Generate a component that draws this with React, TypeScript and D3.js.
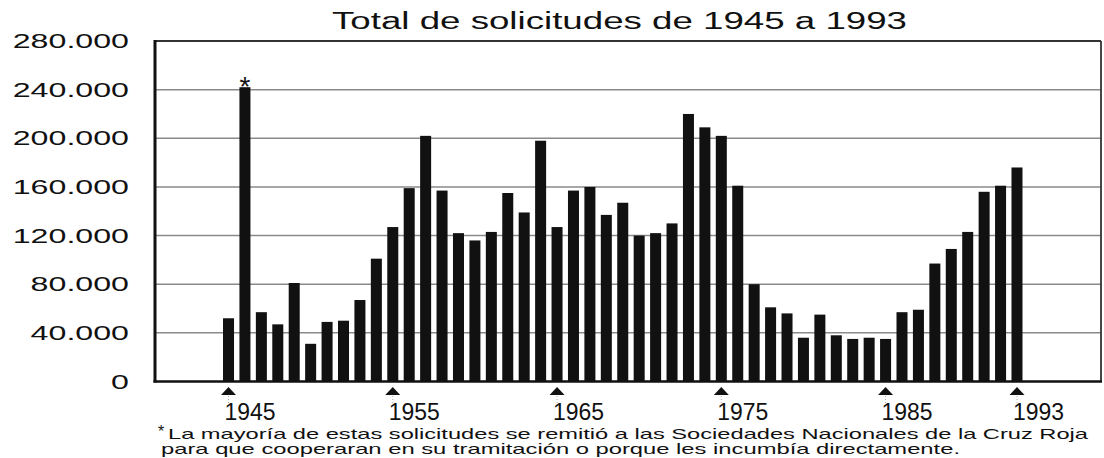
import React from "react";
import * as d3 from "d3";

const years: number[] = [
  1945, 1946, 1947, 1948, 1949, 1950, 1951, 1952, 1953, 1954,
  1955, 1956, 1957, 1958, 1959, 1960, 1961, 1962, 1963, 1964,
  1965, 1966, 1967, 1968, 1969, 1970, 1971, 1972, 1973, 1974,
  1975, 1976, 1977, 1978, 1979, 1980, 1981, 1982, 1983, 1984,
  1985, 1986, 1987, 1988, 1989, 1990, 1991, 1992, 1993,
];

const solicitudes: number[] = [
  52000, 242000, 57000, 47000, 81000, 31000, 49000, 50000, 67000, 101000,
  127000, 159000, 202000, 157000, 122000, 116000, 123000, 155000, 139000, 198000,
  127000, 157000, 160000, 137000, 147000, 120000, 122000, 130000, 220000, 209000,
  202000, 161000, 80000, 61000, 56000, 36000, 55000, 38000, 35000, 36000,
  35000, 57000, 59000, 97000, 109000, 123000, 156000, 161000, 176000,
];

const yTicks: number[] = [0, 40000, 80000, 120000, 160000, 200000, 240000, 280000];
const yTickLabels: string[] = ["0", "40.000", "80.000", "120.000", "160.000", "200.000", "240.000", "280.000"];
const xTickYears: number[] = [1945, 1955, 1965, 1975, 1985, 1993];
const starYear = 1946;

const title = "Total de solicitudes de 1945 a 1993";
const note1 = "La mayoría de estas solicitudes se remitió a las Sociedades Nacionales de la Cruz Roja";
const note2 = "para que cooperaran en su tramitación o porque les incumbía directamente.";

export default function App() {
  const W = 1104;
  const H = 458;
  const left = 155;
  const right = 1101;
  const top = 41;
  const bottom = 381.5;

  const y = d3.scaleLinear().domain([0, 280000]).range([bottom, top]);
  const x = d3
    .scaleBand<number>()
    .domain(years)
    .range([220.3, 1025.2])
    .paddingInner(0.33)
    .paddingOuter(0.165);
  const bw = x.bandwidth();
  const cx = (yr: number) => (x(yr) as number) + bw / 2;

  const sans = "'Liberation Sans', Arial, Helvetica, sans-serif";
  const narrow = "'Liberation Sans Narrow', 'Arial Narrow', 'Liberation Sans', sans-serif";

  return (
    <svg
      width={W}
      height={H}
      viewBox={`0 0 ${W} ${H}`}
      style={{ position: "absolute", left: 0, top: 0, background: "#fff" }}
    >
      <rect x={0} y={0} width={W} height={H} fill="#fff" />
      {/* title */}
      <text
        x={332}
        y={29}
        fontFamily={sans}
        fontSize={23}
        fill="#111"
        textLength={575}
        lengthAdjust="spacingAndGlyphs"
      >
        {title}
      </text>

      {/* gridlines */}
      {yTicks.slice(1, -1).map((t) => (
        <line key={t} x1={left} x2={right} y1={y(t)} y2={y(t)} stroke="#8a8a8a" strokeWidth={1.5} />
      ))}

      {/* y labels */}
      {yTicks.map((t, i) => (
        <text
          key={t}
          transform={`translate(129,${y(t) + 7}) scale(1.65,1)`}
          textAnchor="end"
          fontFamily={sans}
          fontSize={19.5}
          fill="#111"
        >
          {yTickLabels[i]}
        </text>
      ))}

      {/* bars */}
      {years.map((yr, i) => (
        <rect
          key={yr}
          x={x(yr)}
          y={y(solicitudes[i])}
          width={bw}
          height={bottom - y(solicitudes[i])}
          fill="#111"
        />
      ))}

      {/* star */}
      <text
        x={cx(starYear)}
        y={y(solicitudes[years.indexOf(starYear)]) + 9}
        textAnchor="middle"
        fontFamily={sans}
        fontSize={28}
        fill="#111"
      >
        *
      </text>

      {/* frame */}
      <line x1={left} x2={right} y1={top} y2={top} stroke="#333" strokeWidth={1.8} />
      <line x1={right} x2={right} y1={top} y2={bottom} stroke="#333" strokeWidth={1.8} />
      <line x1={left - 1.5} x2={right + 1} y1={bottom} y2={bottom} stroke="#111" strokeWidth={2.5} />
      <line x1={left} x2={left} y1={top - 1} y2={bottom + 1} stroke="#111" strokeWidth={3} />

      {/* x ticks: arrows and labels */}
      {xTickYears.map((yr) => {
        const c = cx(yr);
        return (
          <g key={yr}>
            <path d={`M${c},387 L${c + 7.5},395 L${c - 7.5},395 Z`} fill="#111" />
            <line x1={c} x2={c} y1={396} y2={403} stroke="#aaa" strokeWidth={1} strokeDasharray="1,2" />
            <text
              x={c - 4}
              y={420}
              fontFamily={narrow}
              fontSize={23}
              fill="#111"
              textLength={51}
              lengthAdjust="spacingAndGlyphs"
            >
              {yr}
            </text>
          </g>
        );
      })}

      {/* footnote */}
      <text x={158} y={437} fontFamily={sans} fontSize={16} fill="#111">
        *
      </text>
      <text
        x={168}
        y={438.5}
        fontFamily={sans}
        fontSize={15}
        fill="#111"
        textLength={920}
        lengthAdjust="spacingAndGlyphs"
      >
        {note1}
      </text>
      <text
        x={161}
        y={453.5}
        fontFamily={sans}
        fontSize={15}
        fill="#111"
        textLength={799}
        lengthAdjust="spacingAndGlyphs"
      >
        {note2}
      </text>
    </svg>
  );
}
